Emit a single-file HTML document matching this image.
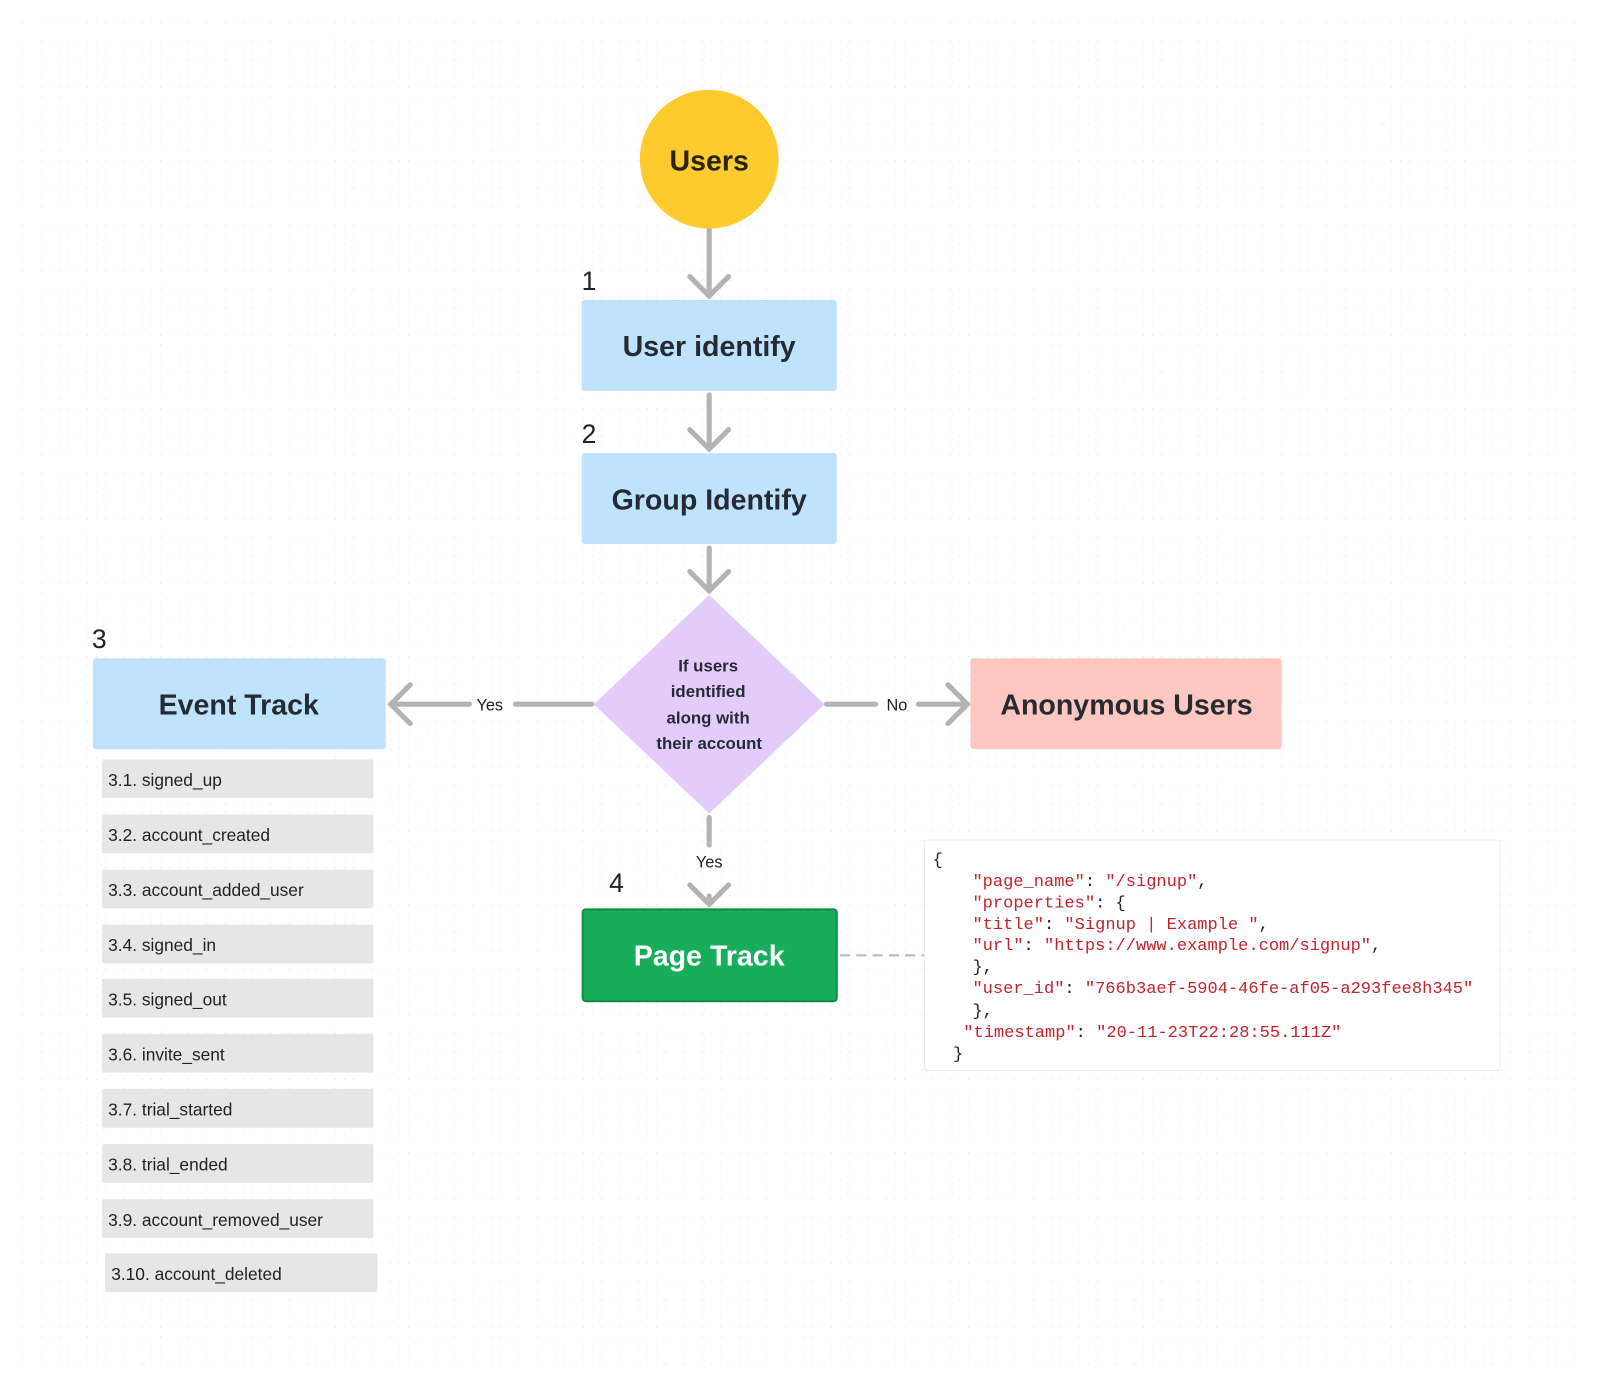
<!DOCTYPE html>
<html><head><meta charset="utf-8"><style>
html,body{margin:0;padding:0;background:#fff}
svg{display:block}
.t{font-family:"Liberation Sans",sans-serif;font-weight:bold;fill:#262b33}
.m{font-family:"Liberation Mono",monospace;font-size:16.7px;fill:#c2242c}
.k{fill:#222}
.li{font-family:"Liberation Sans",sans-serif;font-size:17px;fill:#222}
</style></head><body>
<svg width="1600" height="1386" viewBox="0 0 1568 1358" preserveAspectRatio="none" xmlns="http://www.w3.org/2000/svg">
<defs><pattern id="d" width="9" height="9" patternUnits="userSpaceOnUse"><circle cx="4.5" cy="4.5" r="0.6" fill="#e4e4e4"/></pattern></defs>
<rect width="1568" height="1358" fill="#fff"/>
<rect x="20" y="20" width="1528" height="1318" fill="url(#d)"/>
<g stroke="#b3b3b3" stroke-width="5" stroke-linecap="round" fill="none">
<path d="M695 224V290M676 271L695 290L714 271"/>
<path d="M695 387V440M676 421L695 440L714 421"/>
<path d="M695 537V579M676 560L695 579L714 560"/>
<path d="M580 690H505M460 690H383M402 671L383 690L402 709"/>
<path d="M810 690H858M900 690H948M929 671L948 690L929 709"/>
<path d="M695 801V828M695 878V886M676 867L695 886L714 867"/>
</g>
<path d="M823 936H906" stroke="#bbb" stroke-width="2" stroke-dasharray="10,6"/>
<circle cx="695" cy="156" r="68" fill="#fdcb2e"/>
<text x="695" y="167" text-anchor="middle" class="t" font-size="28" style="fill:#2a2310">Users</text>
<text x="570" y="284" font-family="Liberation Sans" font-size="26" class="k">1</text>
<rect x="570" y="294" width="250" height="89" rx="3" fill="#bfe3fc"/>
<text x="695" y="349" text-anchor="middle" class="t" font-size="28">User identify</text>
<text x="570" y="434" font-family="Liberation Sans" font-size="26" class="k">2</text>
<rect x="570" y="444" width="250" height="89" rx="3" fill="#bfe3fc"/>
<text x="695" y="499" text-anchor="middle" class="t" font-size="28">Group Identify</text>
<polygon points="695,583 808,690 695,797 582,690" fill="#e3cbfc"/>
<g class="t" font-size="16.5" text-anchor="middle">
<text x="694" y="658">If users</text><text x="694" y="683">identified</text><text x="694" y="709">along with</text><text x="695" y="734">their account</text></g>
<text x="480" y="696" text-anchor="middle" font-family="Liberation Sans" font-size="16" class="k">Yes</text>
<text x="879" y="696" text-anchor="middle" font-family="Liberation Sans" font-size="16" class="k">No</text>
<text x="695" y="850" text-anchor="middle" font-family="Liberation Sans" font-size="16" class="k">Yes</text>
<text x="90" y="635" font-family="Liberation Sans" font-size="26" class="k">3</text>
<rect x="91" y="645" width="287" height="89" rx="3" fill="#bfe3fc"/>
<text x="234" y="700" text-anchor="middle" class="t" font-size="28">Event Track</text>
<rect x="951" y="645" width="305" height="89" rx="3" fill="#fec7c2"/>
<text x="1104" y="700" text-anchor="middle" class="t" font-size="28">Anonymous Users</text>
<text x="597" y="874" font-family="Liberation Sans" font-size="26" class="k">4</text>
<rect x="571" y="891" width="249" height="90" rx="3" fill="#17ad5b" stroke="#128c48" stroke-width="2"/>
<text x="695" y="946" text-anchor="middle" class="t" font-size="28" style="fill:#fff">Page Track</text>
<g fill="#e6e6e6">
<rect x="100" y="744" width="266" height="38" rx="2"/><rect x="100" y="798" width="266" height="38" rx="2"/>
<rect x="100" y="852" width="266" height="38" rx="2"/><rect x="100" y="906" width="266" height="38" rx="2"/>
<rect x="100" y="959" width="266" height="38" rx="2"/><rect x="100" y="1013" width="266" height="38" rx="2"/>
<rect x="100" y="1067" width="266" height="38" rx="2"/><rect x="100" y="1121" width="266" height="38" rx="2"/>
<rect x="100" y="1175" width="266" height="38" rx="2"/><rect x="103" y="1228" width="267" height="38" rx="2"/>
</g>
<g class="li">
<text x="106" y="770">3.1. signed_up</text><text x="106" y="824">3.2. account_created</text>
<text x="106" y="878">3.3. account_added_user</text><text x="106" y="932">3.4. signed_in</text>
<text x="106" y="985">3.5. signed_out</text><text x="106" y="1039">3.6. invite_sent</text>
<text x="106" y="1093">3.7. trial_started</text><text x="106" y="1147">3.8. trial_ended</text>
<text x="106" y="1201">3.9. account_removed_user</text><text x="109" y="1254">3.10. account_deleted</text>
</g>
<rect x="906" y="823" width="564" height="226" rx="3" fill="#fff" stroke="#ececec" stroke-width="1"/>
<g class="m" xml:space="preserve">
<text x="914" y="847" class="k" style="fill:#222">{</text>
<text x="953" y="868">"page_name"<tspan fill="#222">: </tspan>"/signup"<tspan fill="#222">,</tspan></text>
<text x="953" y="889">"properties"<tspan fill="#222">: {</tspan></text>
<text x="953" y="910">"title"<tspan fill="#222">: </tspan>"Signup | Example "<tspan fill="#222">,</tspan></text>
<text x="953" y="931">"url"<tspan fill="#222">: </tspan>"https://www.example.com/signup"<tspan fill="#222">,</tspan></text>
<text x="953" y="952" style="fill:#222">},</text>
<text x="953" y="973">"user_id"<tspan fill="#222">: </tspan>"766b3aef-5904-46fe-af05-a293fee8h345"</text>
<text x="953" y="995" style="fill:#222">},</text>
<text x="944" y="1016">"timestamp"<tspan fill="#222">: </tspan>"20-11-23T22:28:55.111Z"</text>
<text x="934" y="1037" style="fill:#222">}</text>
</g>
</svg>
</body></html>
